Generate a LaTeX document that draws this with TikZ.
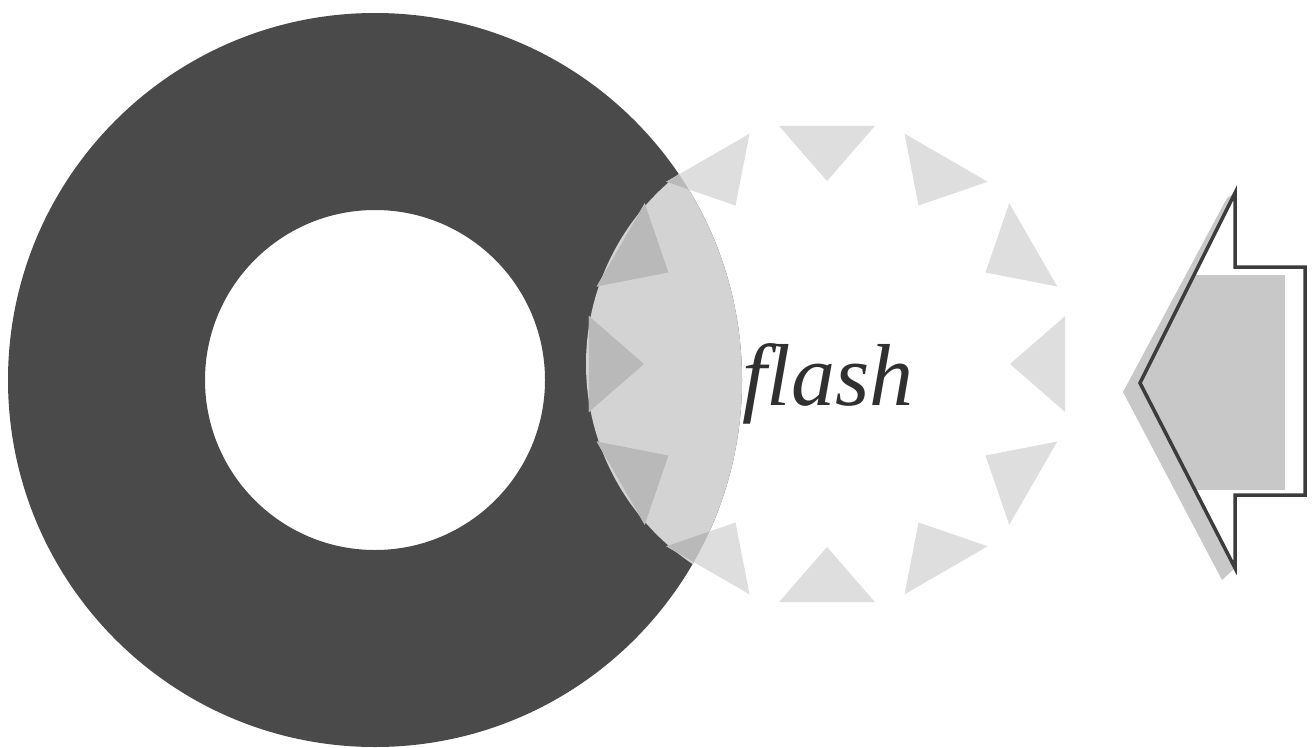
\documentclass[tikz,border=0pt]{standalone}
\usepackage{fontspec}
\setmainfont{Liberation Serif}
\definecolor{ringdark}{HTML}{4A4A4A}
\definecolor{disklight}{HTML}{D3D3D3}
\definecolor{raylight}{HTML}{DEDEDE}
\definecolor{raymid}{HTML}{B9B9B9}
\definecolor{arrowline}{HTML}{3C3C3C}
\definecolor{arrowshade}{HTML}{C8C8C8}
\definecolor{textcol}{HTML}{303030}
\tikzset{
  ray/.pic={
    \fill (0:183) -- (11.4:243) -- (-11.4:243) -- cycle;
  },
  flashtext/.style={font=\itshape\fontsize{88}{88}\selectfont, text=textcol, inner sep=0pt},
  arrowoutline/.style={draw=arrowline, line width=3.5pt, line join=miter},
  arrowshadow/.style={fill=arrowshade}
}
\begin{document}
\begin{tikzpicture}[x=1pt,y=-1pt]
\fill[white] (0,0) rectangle (1316,747);
\useasboundingbox (0,0) rectangle (1316,747);
\coordinate (rc) at (375,380);
\coordinate (fc) at (827,364);
% dark ring
\fill[ringdark,even odd rule] (rc) circle (367pt) (rc) circle (170pt);
% flash disk lightening the ring
\begin{scope}
  \clip (fc) circle (241pt);
  \fill[disklight] (rc) circle (367pt);
\end{scope}
% rays
\foreach \a in {0,30,...,330} {
  \pic[raylight, shift={(fc)}, rotate=\a] {ray};
}
\begin{scope}
  \clip (rc) circle (367pt);
  \foreach \a in {0,30,...,330} {
    \pic[raymid, shift={(fc)}, rotate=\a] {ray};
  }
\end{scope}
% text
\node[flashtext, anchor=base] (flash) at (828,405) {flash};
% arrow shadow
\coordinate (tip) at (1140,383);
\coordinate (top) at (1235,193);
\coordinate (bot) at (1235,568);
\begin{scope}
  \clip (tip) -- (top) -- (1235,267) -- (1305,267) -- (1305,495) -- (1235,495) -- (bot) -- cycle;
  \fill[arrowshadow] (1100,275) rectangle (1285,490);
\end{scope}
\fill[arrowshadow] (1123,392) -- (1227,198) -- (top) -- (tip) -- (bot) -- (1222,580) -- cycle;
% arrow outline
\draw[arrowoutline] (tip) -- (top) -- (1235,267) -- (1305,267) -- (1305,495) -- (1235,495) -- (bot) -- cycle;
\end{tikzpicture}
\end{document}
